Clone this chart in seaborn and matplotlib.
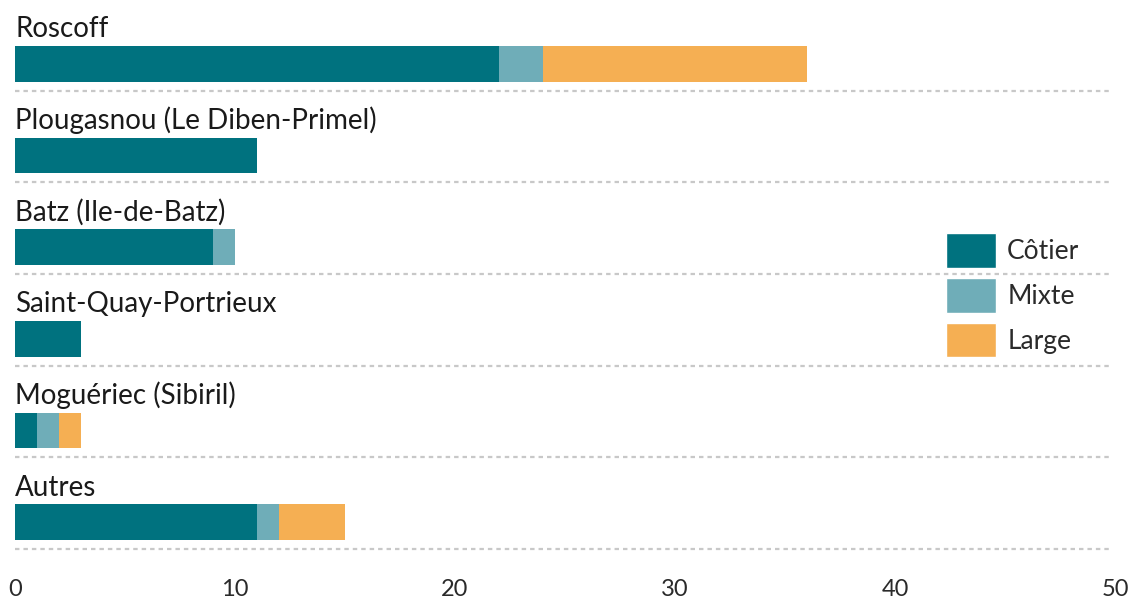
import matplotlib
matplotlib.use("Agg")
import matplotlib.pyplot as plt
from matplotlib.patches import Patch
import seaborn as sns
import pandas as pd

# Données
ports = ['Roscoff', 'Plougasnou (Le Diben-Primel)', 'Batz (Ile-de-Batz)',
         'Saint-Quay-Portrieux', 'Moguériec (Sibiril)', 'Autres']
cotier = [22, 11, 9, 3, 1, 11]
mixte = [2, 0, 1, 0, 1, 1]
large = [12, 0, 0, 0, 1, 3]

couleurs = {'Côtier': '#00727f', 'Mixte': '#6fadb8', 'Large': '#f5af53'}

df = pd.DataFrame({'port': ports, 'Côtier': cotier, 'Mixte': mixte, 'Large': large})
df['cum_mixte'] = df['Côtier'] + df['Mixte']
df['cum_large'] = df['cum_mixte'] + df['Large']

sns.set_style('white')
plt.rcParams['font.family'] = ['Lato', 'DejaVu Sans']

fig = plt.figure(figsize=(11.32, 6.03), dpi=100)
W, H = 1132, 603
ax = fig.add_axes([15 / W, 1 - 568 / H, 1100 / W, 568 / H])

# barres empilées : total d'abord, puis les cumuls
for col in ['cum_large', 'cum_mixte', 'Côtier']:
    nom = {'cum_large': 'Large', 'cum_mixte': 'Mixte', 'Côtier': 'Côtier'}[col]
    sns.barplot(data=df, x=col, y='port', order=ports, color=couleurs[nom],
                width=0.39, ax=ax, saturation=1, linewidth=0, edgecolor='none')

for i, p in enumerate(ports):
    ax.text(0, i - 0.29, p, ha='left', va='baseline', fontsize=20,
            color='#1a1a1a')
    ax.hlines(i + 0.293, 0, 49.8, colors='#c8c8c8', lw=1.6, linestyles=(0, (2, 1.8)))

ax.set_xlim(0, 50)
ax.set_ylim(5.5, -0.696)
ax.set_xticks([0, 10, 20, 30, 40, 50])
ax.set_yticks([])
ax.set_xlabel('')
ax.set_ylabel('')
ax.tick_params(axis='x', length=0, pad=8, labelsize=17, labelcolor='#2a2a2a')
sns.despine(ax=ax, left=True, bottom=True)

handles = [Patch(facecolor=c, label=k) for k, c in couleurs.items()]
fig.legend(handles=handles, loc='upper left', bbox_to_anchor=(946 / W, 1 - 233 / H),
           frameon=False, fontsize=19, borderpad=0, borderaxespad=0,
           handlelength=1.9, handleheight=1.65, handletextpad=0.42, labelspacing=0.38,
           labelcolor='#2a2a2a')

fig.savefig('out.png', dpi=100)
